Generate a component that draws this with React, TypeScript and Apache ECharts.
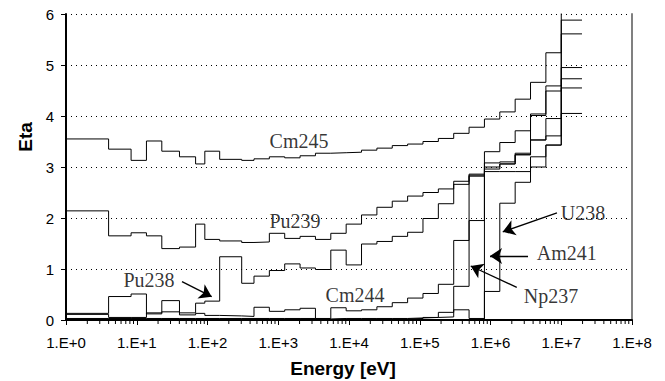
import React, { useEffect, useRef } from "react";
import * as echarts from "echarts";

// ECCO-33 group boundaries (eV) inside the plotted range, ascending
const groupEdges = [1, 4, 8.3153, 13.71, 22.603, 40.169, 67.904, 91.661, 148.63, 304.33, 454.0, 748.52, 1234.1, 2034.7, 3354.6, 5530.8, 9118.8, 15034, 24788, 40868, 67379, 111090, 183160, 301970, 497870, 820850, 1353400, 2231300, 3678800, 6065300, 1.0e7, 1.964e7];

// Eta per group (31 groups, low to high energy)
const cm245 = [3.55, 3.35, 3.13, 3.51, 3.31, 3.2, 3.06, 3.31, 3.15, 3.13, 3.16, 3.2, 3.18, 3.22, 3.27, 3.28, 3.29, 3.33, 3.37, 3.42, 3.45, 3.5, 3.56, 3.66, 3.78, 3.94, 4.08, 4.33, 4.66, 5.24, 6.3];
const pu239 = [2.14, 1.65, 1.71, 1.65, 1.4, 1.43, 1.88, 1.58, 1.55, 1.52, 1.53, 1.7, 1.6, 1.64, 1.58, 1.7, 1.88, 2.06, 2.21, 2.33, 2.43, 2.5, 2.57, 2.72, 2.86, 3.3, 3.48, 3.71, 4.04, 4.59, 5.88];
const pu238 = [0.13, 0.46, 0.51, 0.12, 0.38, 0.14, 0.33, 0.37, 1.24, 0.72, 0.86, 0.97, 1.1, 1.02, 0.99, 1.37, 1.08, 1.49, 1.54, 1.64, 1.72, 1.99, 2.28, 2.66, 2.82, 3.08, 3.1, 3.27, 4.01, 4.49, 5.61];
const cm244 = [0.11, 0.05, 0.05, 0.14, 0.16, 0.1, 0.13, 0.09, 0.08, 0.07, 0.25, 0.17, 0.2, 0.23, 0.03, 0.24, 0.18, 0.2, 0.26, 0.34, 0.43, 0.52, 0.7, 1.56, 2.84, 3.0, 3.06, 3.24, 3.53, 3.61, 4.73];
const am241 = [0.03, 0.03, 0.03, 0.03, 0.03, 0.03, 0.03, 0.03, 0.03, 0.03, 0.03, 0.03, 0.03, 0.03, 0.02, 0.03, 0.03, 0.03, 0.03, 0.03, 0.04, 0.05, 0.15, 0.2, 0.03, 2.96, 3.06, 3.24, 3.53, 3.95, 4.95];
const np237 = [0.02, 0.02, 0.02, 0.02, 0.02, 0.02, 0.02, 0.02, 0.02, 0.02, 0.02, 0.02, 0.02, 0.02, 0.01, 0.02, 0.02, 0.02, 0.02, 0.02, 0.03, 0.05, 0.06, 0.66, 1.95, 2.91, 2.91, 2.91, 3.2, 3.43, 4.55];
const u238 = [0, 0, 0, 0, 0, 0, 0, 0, 0, 0, 0, 0, 0, 0, 0, 0, 0, 0, 0, 0, 0, 0, 0, 0, 0, 0.56, 2.29, 2.7, 3.0, 3.43, 4.05];

// annotation labels: [text, energy, eta] in data space
const seriesLabels: [string, number, number][] = [
  ["Cm245", 1965, 3.51],
  ["Pu239", 1726, 1.94],
  ["Pu238", 14.9, 0.784],
  ["Cm244", 12160, 0.49],
  ["U238", 2.03e7, 2.1],
  ["Am241", 1.2e7, 1.31],
  ["Np237", 7.16e6, 0.47],
];
// arrows: [x1, y1, x2(head), y2(head)]
const arrows: [number, number, number, number][] = [
  [43.6, 0.751, 114.7, 0.457],
  [8.7e6, 2.1, 1.49e6, 1.73],
  [3.39e6, 1.255, 9.84e5, 1.255],
  [2.35e6, 0.641, 5.25e5, 1.059],
];

function stepData(vals: number[]) {
  const pts: [number, number][] = vals.map((v, i) => [groupEdges[i], v]);
  pts.push([groupEdges[groupEdges.length - 1], vals[vals.length - 1]]);
  return pts;
}

const minorTicks: [number, number][] = [];
for (let k = 0; k < 8; k++) {
  for (let m = 2; m <= 9; m++) minorTicks.push([m * Math.pow(10, k), 0]);
}

export default function App() {
  const ref = useRef<HTMLDivElement>(null);
  useEffect(() => {
    if (!ref.current) return;
    const chart = echarts.init(ref.current, undefined, { renderer: "svg" });
    const all = [
      ["Cm245", cm245],
      ["Pu239", pu239],
      ["Pu238", pu238],
      ["Cm244", cm244],
      ["Am241", am241],
      ["Np237", np237],
      ["U238", u238],
    ] as [string, number[]][];
    const lineSeries: any[] = all.map(([name, vals]) => ({
      name,
      type: "line",
      step: "end",
      data: stepData(vals),
      symbol: "none",
      clip: true,
      lineStyle: { color: "#000", width: 1 },
      silent: true,
    }));
    lineSeries.push({
      type: "line",
      data: [],
      symbol: "none",
      markLine: {
        silent: true,
        animation: false,
        symbol: ["none", "arrow"],
        symbolSize: 12,
        label: { show: false },
        lineStyle: { color: "#000", width: 1.3, type: "solid" },
        data: arrows.map(([x1, y1, x2, y2]) => [
          { coord: [x1, y1] },
          { coord: [x2, y2] },
        ]),
      },
    });
    lineSeries.push({
      type: "custom",
      clip: false,
      silent: true,
      data: minorTicks,
      renderItem: (params: any, api: any) => {
        const p = api.coord([api.value(0), 0]);
        return {
          type: "line",
          shape: { x1: p[0], y1: p[1], x2: p[0], y2: p[1] + 4 },
          style: { stroke: "#000", lineWidth: 1 },
        };
      },
    });
    lineSeries.push({
      type: "scatter",
      data: seriesLabels.map(([t, x, y]) => ({ value: [x, y], name: t })),
      symbolSize: 0,
      silent: true,
      clip: false,
      label: {
        show: true,
        position: "inside",
        formatter: (p: any) => p.name,
        fontFamily: "Liberation Serif",
        fontSize: 20,
        color: "#000",
      },
    });

    chart.setOption({
      animation: false,
      backgroundColor: "#fff",
      grid: { left: 66, top: 14, width: 566, height: 306 },
      xAxis: [
        {
          type: "log",
          logBase: 10,
          min: 1,
          max: 1e8,
          splitNumber: 8,
          axisLine: { show: true, lineStyle: { color: "#000", width: 2 } },
          axisTick: { show: true, length: 5, lineStyle: { color: "#000", width: 1 } },
          axisLabel: {
            margin: 15,
            fontFamily: "Liberation Sans",
            fontSize: 15,
            color: "#000",
            formatter: (v: number) => "1.E+" + Math.round(Math.log10(v)),
          },
          splitLine: { show: false },
        },
        {
          type: "log",
          logBase: 10,
          min: 1,
          max: 1e8,
          position: "top",
          axisLine: { show: true, lineStyle: { color: "#000", width: 1 } },
          axisTick: { show: false },
          axisLabel: { show: false },
          splitLine: { show: false },
        },
      ],
      yAxis: [
        {
          type: "value",
          min: 0,
          max: 6,
          interval: 1,
          axisLine: { show: true, lineStyle: { color: "#000", width: 2 } },
          axisTick: { show: true, length: 5, lineStyle: { color: "#000", width: 1 } },
          axisLabel: { margin: 12, fontFamily: "Liberation Sans", fontSize: 15, color: "#000" },
          splitLine: { show: true, lineStyle: { color: "#000", width: 1, type: [1, 4] } },
        },
        {
          type: "value",
          min: 0,
          max: 6,
          position: "right",
          axisLine: { show: true, lineStyle: { color: "#808080", width: 2 } },
          axisTick: { show: false },
          axisLabel: { show: false },
          splitLine: { show: false },
        },
      ],
      graphic: [
        {
          type: "text",
          x: 25,
          y: 137,
          rotation: Math.PI / 2,
          style: {
            text: "Eta",
            fontFamily: "Liberation Sans",
            fontWeight: "bold",
            fontSize: 19,
            fill: "#000",
            align: "center",
            verticalAlign: "middle",
          },
        },
        {
          type: "text",
          x: 343,
          y: 368,
          style: {
            text: "Energy [eV]",
            fontFamily: "Liberation Sans",
            fontWeight: "bold",
            fontSize: 19,
            fill: "#000",
            align: "center",
            verticalAlign: "middle",
          },
        },
      ],
      series: lineSeries,
    });
    return () => chart.dispose();
  }, []);
  return (
    <div
      ref={ref}
      style={{ position: "fixed", left: 0, top: 0, width: 665, height: 381, background: "#fff" }}
    />
  );
}
